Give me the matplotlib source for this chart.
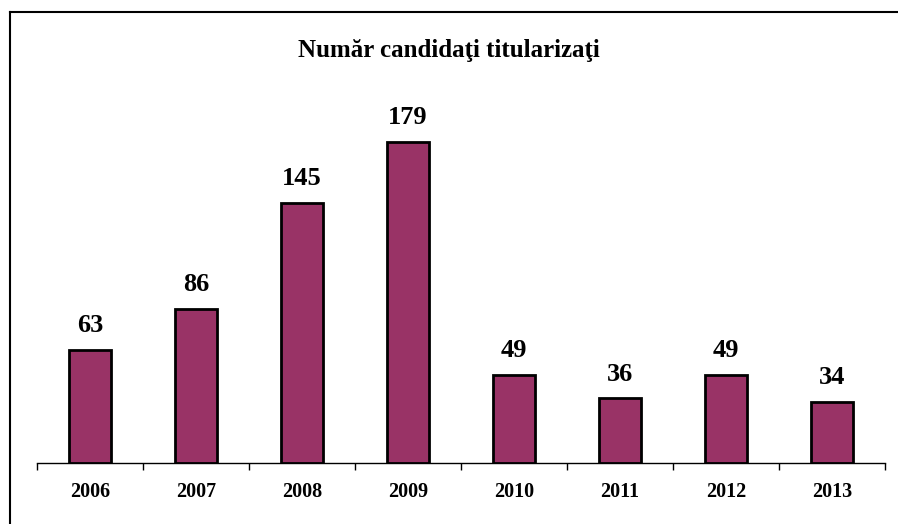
import matplotlib.pyplot as plt
from matplotlib.lines import Line2D

years = ["2006", "2007", "2008", "2009", "2010", "2011", "2012", "2013"]
candidates = [63, 86, 145, 179, 49, 36, 49, 34]

plt.rcParams['font.family'] = ['Liberation Serif', 'DejaVu Serif']

fig = plt.figure(figsize=(8.98, 5.24), dpi=100)
ax = fig.add_axes([37 / 898, 1 - 463 / 524, 848 / 898, 359 / 524])

x = range(len(years))
bars = ax.bar(x, candidates, width=0.4, color='#993366', edgecolor='black', linewidth=2, zorder=3)

for xi, v in zip(x, candidates):
    ax.text(xi, v + 7, str(v), ha='center', va='bottom', fontsize=19, fontweight='bold')

ax.set_xlim(-0.5, len(years) - 0.5)
ax.set_ylim(0, 200)

for s in ['left', 'right', 'top']:
    ax.spines[s].set_visible(False)
ax.spines['bottom'].set_linewidth(1.0)
ax.set_yticks([])

# tick marks between categories, labels at centers
ax.set_xticks([i - 0.5 for i in range(len(years) + 1)], minor=False)
ax.set_xticklabels([''] * (len(years) + 1))
ax.tick_params(axis='x', which='major', direction='out', length=5, width=1)
ax.set_xticks(list(x), minor=True)
ax.set_xticklabels(years, minor=True, fontsize=14.5, fontweight='bold')
ax.tick_params(axis='x', which='minor', length=0, pad=14)

fig.text(0.5, 1 - 50 / 524, "Număr candidaţi titularizaţi", ha='center', va='center',
         fontsize=18, fontweight='bold')

# outer border (left and top only visible)
fig.add_artist(Line2D([10 / 898, 10 / 898], [0, 1 - 12 / 524], color='black', linewidth=1.5))
fig.add_artist(Line2D([10 / 898, 1], [1 - 12 / 524, 1 - 12 / 524], color='black', linewidth=1.5))

fig.savefig("out.png", dpi=100)
